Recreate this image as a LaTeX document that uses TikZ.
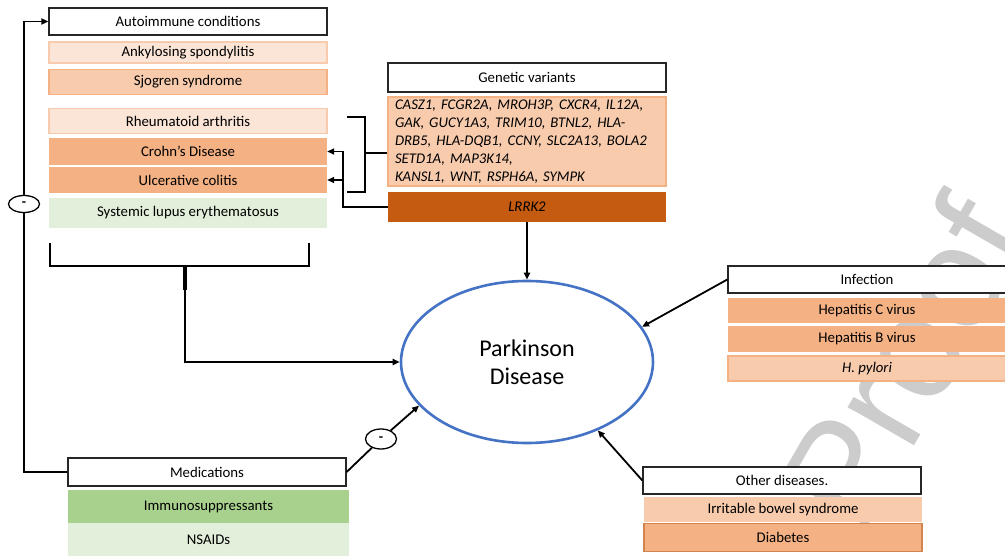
\documentclass[tikz,border=0pt]{standalone}
\usepackage{fontspec}
\setmainfont{Carlito}
\newfontfamily\wmfont{Liberation Sans}
\usetikzlibrary{arrows.meta,shapes.geometric,calc}
\definecolor{or1}{HTML}{FBE5D6}
\definecolor{or1b}{HTML}{F8CBAD}
\definecolor{or2}{HTML}{F8CBAD}
\definecolor{or2b}{HTML}{F4B183}
\definecolor{or3}{HTML}{F4B183}
\definecolor{dkor}{HTML}{C55A11}
\definecolor{gr1}{HTML}{E2EFDA}
\definecolor{gr2}{HTML}{A9D18E}
\definecolor{pdblue}{HTML}{4472C4}
\definecolor{wm}{RGB}{204,204,204}
\definecolor{hdrline}{HTML}{262626}
\begin{document}
\begin{tikzpicture}[x=1pt,y=-1pt,
  every node/.style={font=\fontsize{14.8}{17}\selectfont},
  cbox/.style={rectangle, minimum width=278pt, inner sep=0pt, align=center},
  hdr/.style={cbox, draw=hdrline, line width=1.3pt, fill=white},
  lt/.style={cbox, fill=or1, draw=or1b, line width=1.5pt},
  md/.style={cbox, fill=or2, draw=or2b, line width=1.5pt},
  dk/.style={cbox, fill=or3},
  conn/.style={line width=1.8pt, black},
  arr/.style={conn, -{Triangle[length=7pt,width=6pt]}},
  minus/.style={ellipse, draw, line width=1.3pt, fill=white, inner sep=0pt, font=\fontsize{14}{14}\selectfont\bfseries}
]
\useasboundingbox[fill=white] (0,0) rectangle (1005,556);

% watermark
\begin{scope}
\clip (0,0) rectangle (1005,556);
\node[anchor=base west, rotate=60, inner sep=0pt, text=wm, font=\wmfont\fontsize{145}{145}\selectfont] (wmark) at (861,538) {Proof};
\end{scope}

% Autoimmune column
\node[hdr, minimum height=27pt] (auto) at (188,21.5) {Autoimmune conditions};
\node[lt, minimum height=21pt] (ankyl) at (188,52.5) {Ankylosing spondylitis};
\node[md, minimum height=25pt] (sjog) at (188,82) {Sjogren syndrome};
\node[lt, minimum height=25pt] (rheum) at (188,121) {Rheumatoid arthritis};
\node[dk, minimum height=27pt] (crohn) at (188,151.5) {Crohn’s Disease};
\node[dk, minimum height=26pt] (uc) at (188,180) {Ulcerative colitis};
\node[cbox, fill=gr1, minimum height=30pt] (sle) at (188,213) {Systemic lupus erythematosus};

% Genetic variants
\node[hdr, minimum height=29pt] (genhdr) at (527,77.5) {Genetic variants};
\node[md, minimum height=89pt, text width=264pt, inner xsep=7pt, align=left,
      font=\fontsize{14.8}{18}\selectfont\itshape] (genes) at (527,141.5)
  {CASZ1, FCGR2A, MROH3P, CXCR4, IL12A,\\GAK, GUCY1A3, TRIM10, BTNL2, HLA-\\DRB5, HLA-DQB1, CCNY, SLC2A13, BOLA2\\SETD1A, MAP3K14,\\KANSL1, WNT, RSPH6A, SYMPK};
\node[cbox, fill=dkor, minimum height=30pt, font=\fontsize{14.8}{17}\selectfont\itshape] (lrrk2) at (527,207) {LRRK2};

% Parkinson disease
\node[ellipse, draw=pdblue, line width=2.6pt, minimum width=252pt, minimum height=162pt, inner sep=0pt,
      align=center, font=\fontsize{24}{28}\selectfont] (PD) at (527,362) {Parkinson\\Disease};

% Infection
\node[hdr, minimum height=27pt] (inf) at (867,279.5) {Infection};
\node[dk, minimum height=25pt] (hepc) at (867,310.5) {Hepatitis C virus};
\node[dk, minimum height=26pt] (hepb) at (867,339) {Hepatitis B virus};
\node[md, minimum height=25pt, font=\fontsize{14.8}{17}\selectfont\itshape] (hpyl) at (867,368.5) {H. pylori};

% Other diseases
\node[hdr, minimum height=27pt] (other) at (782,480.5) {Other diseases.};
\node[cbox, fill=or2, minimum height=25pt] (ibs) at (783,509.5) {Irritable bowel syndrome};
\node[cbox, fill=or3, draw=dkor!75, line width=1.3pt, minimum height=28pt] (diab) at (783,537.5) {Diabetes};

% Medications
\node[hdr, minimum height=28pt] (med) at (207,472) {Medications};
\node[cbox, fill=gr2, minimum width=281pt, minimum height=33pt] (immuno) at (208.5,506.5) {Immunosuppressants};
\node[cbox, fill=gr1, minimum width=281pt, minimum height=33pt] (nsaid) at (208.5,539.5) {NSAIDs};

% minus signs
\node[minus, minimum width=31pt, minimum height=17pt] (m1) at (24,204) {-};
\node[minus, minimum width=31pt, minimum height=20pt] (m2) at (381,439) {-};

% connectors
\draw[conn] (med.west) -| (m1.south);
\draw[arr] (m1.north) |- (auto.west);

\coordinate (bl) at (50,243);
\coordinate (br) at (309,243);
\coordinate (bm) at (185,266);
\draw[conn] (bl) -- (bl |- bm) -- (br |- bm) -- (br);
\draw[line width=3.2pt] (bm) -- ++(0,24);
\draw[arr] (bm) |- (PD.west);

\coordinate (gtop) at (347,117);
\coordinate (gbot) at (347,192);
\draw[conn] (genes.west |- 0,153) -- (365,153);
\draw[conn] (gtop) -- (365,117) -- (365,192) -- (gbot);

\coordinate (j1) at (343,151.5);
\coordinate (j2) at (343,180);
\draw[arr] (lrrk2.west) -| (j1) -- (crohn.east);
\draw[arr] (j2) -- (uc.east);

\draw[arr] (lrrk2.south) -- (PD.north);
\draw[arr] (inf.west) -- (PD.17);
\draw[arr] (other.west) -- (PD.-44);
\draw[conn] (med.east) -- (m2);
\draw[arr] (m2) -- (PD.-158);
\end{tikzpicture}
\end{document}
